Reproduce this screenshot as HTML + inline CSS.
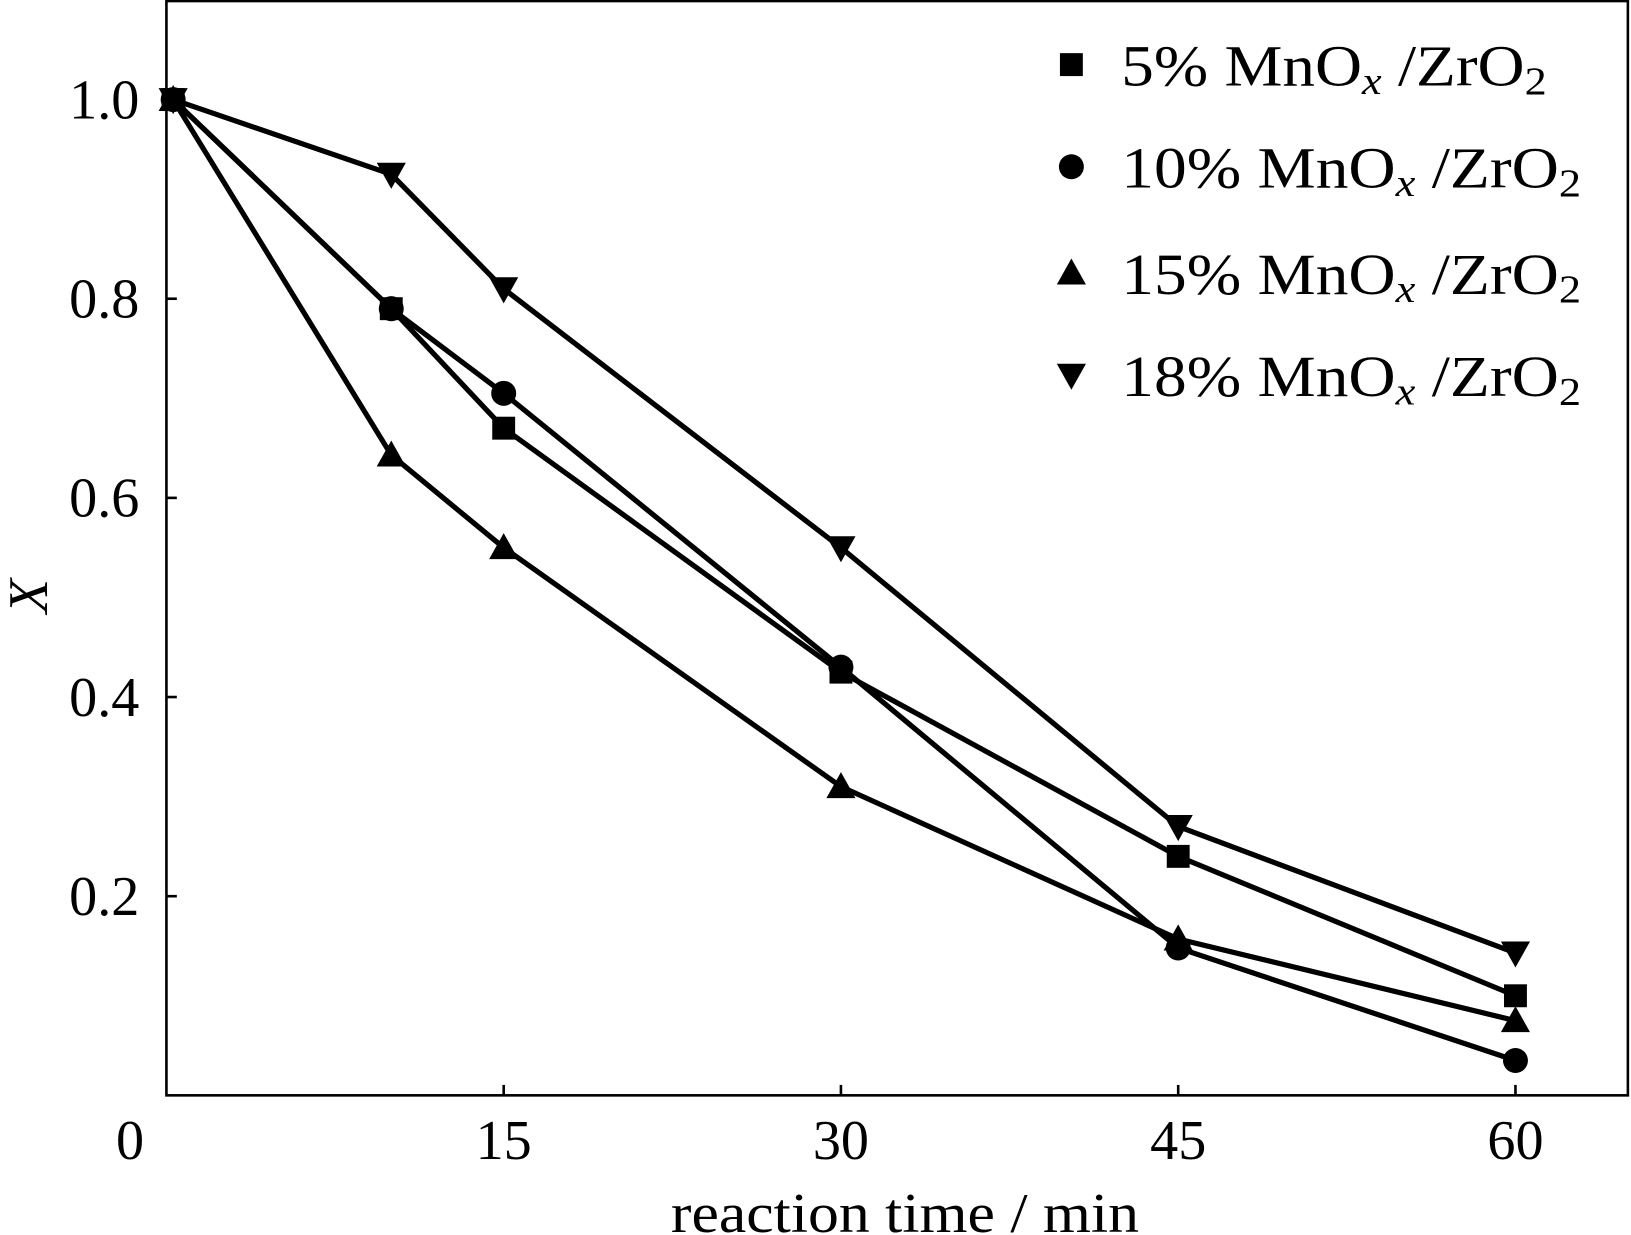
<!DOCTYPE html>
<html><head><meta charset="utf-8"><style>
html,body{margin:0;padding:0;background:#fff;}
svg{display:block;font-family:"Liberation Serif",serif;}
</style></head><body>
<svg id="chart" width="1631" height="1235" viewBox="0 0 1568 1185" preserveAspectRatio="none" xmlns="http://www.w3.org/2000/svg"></svg>
<script>
const xVals=[0.3,10,15,30,45,60];
const s5=[1.0,0.79,0.67,0.425,0.24,0.10];
const s10=[1.0,0.79,0.705,0.43,0.148,0.035];
const s15=[1.0,0.643,0.55,0.31,0.157,0.075];
const s18=[1.0,0.925,0.81,0.55,0.27,0.143];
const xTicks=[0,15,30,45,60];
const yTicks=[0.2,0.4,0.6,0.8,1.0];
const seriesNames=["5%","10%","15%","18%"];
const L=160,R=1565,T=0,B=1051;
const xs=v=>L+(v/65)*(R-L);
const ys=v=>B-(v/1.1)*(B-T);
const NS="http://www.w3.org/2000/svg";
const svg=document.getElementById('chart');
function mk(tag,attrs){const e=document.createElementNS(NS,tag);for(const k in attrs)e.setAttribute(k,attrs[k]);svg.appendChild(e);return e;}
let e=mk('rect',{x:L,y:T+1,width:R-L,height:B-T-1,fill:'none',stroke:'#000','stroke-width':2.5});


xTicks.forEach(t=>{
 if(t>0){let k=mk('line',{x1:xs(t),x2:xs(t),y1:B,y2:B-10,stroke:'#000','stroke-width':2.5});
 
 }
 let tx=mk('text',{x:t===0?125:xs(t),y:1112,'font-size':54,'text-anchor':'middle'});tx.textContent=t;
 
 
});
yTicks.forEach(t=>{
 let k=mk('line',{x1:L,x2:L+10,y1:ys(t),y2:ys(t),stroke:'#000','stroke-width':2.5});
 
 
 let tx=mk('text',{x:134,y:ys(t)+18,'font-size':54,'text-anchor':'end'});tx.textContent=t.toFixed(1);
 
 
});
let xl=mk('text',{x:645,y:1182,'font-size':54,textLength:450,lengthAdjust:'spacingAndGlyphs'});xl.textContent='reaction time / min';


let yl=mk('text',{x:0,y:0,'font-size':54,'font-style':'italic','text-anchor':'middle',transform:'translate(45,572) rotate(-90)'});yl.textContent='X';


function marker(type,x,y){
 let m;
 if(type==='sq')m=mk('rect',{x:x-11,y:y-11,width:22,height:22,fill:'#000'});
 else if(type==='ci')m=mk('circle',{cx:x,cy:y,r:12,fill:'#000'});
 else if(type==='up')m=mk('polygon',{points:`${x},${y-14} ${x-14},${y+11} ${x+14},${y+11}`,fill:'#000'});
 else m=mk('polygon',{points:`${x},${y+14} ${x-14},${y-11} ${x+14},${y-11}`,fill:'#000'});
 return m;
}
const all=[[s5,'sq'],[s10,'ci'],[s15,'up'],[s18,'dn']];
all.forEach(([d,type],i)=>{
 let p=mk('polyline',{points:d.map((v,j)=>xs(xVals[j])+','+ys(v)).join(' '),fill:'none',stroke:'#000','stroke-width':5});
 
 
 d.forEach((v,j)=>{let m=marker(type,xs(xVals[j]),ys(v));
  
  });
 let ly=[62,160,262,360][i];
 let lm=marker(type,1030,ly);
 
 
 let lt=mk('text',{x:1078,y:ly+20,'font-size':56,textLength:i===0?409:442,lengthAdjust:'spacingAndGlyphs'});
 lt.innerHTML=seriesNames[i]+' MnO<tspan font-style="italic" font-size="38" dy="8">x</tspan><tspan dy="-8"> /ZrO</tspan><tspan font-size="38" dy="8">2</tspan>';
 
 
});
</script>
</body></html>
